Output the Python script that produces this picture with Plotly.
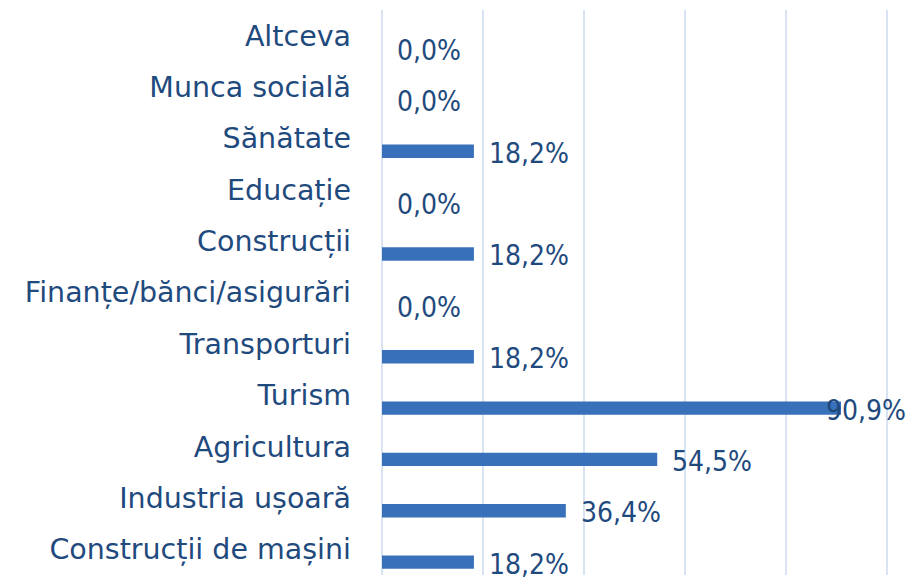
import plotly.graph_objects as go

categories = ["Construcții de mașini", "Industria ușoară", "Agricultura", "Turism",
              "Transporturi", "Finanțe/bănci/asigurări", "Construcții", "Educație",
              "Sănătate", "Munca socială", "Altceva"]
values = [18.2, 36.4, 54.5, 90.9, 18.2, 0.0, 18.2, 0.0, 18.2, 0.0, 0.0]
value_labels = [f"{v:.1f}%".replace(".", ",") for v in values]

TEXT = "#1F4A7E"
FONT = "DejaVu Sans"
VFONT = "DejaVu Sans Condensed"
GRID = "#D8E3F4"

pos = list(range(len(categories)))
fig = go.Figure()
fig.add_trace(go.Bar(
    x=values, y=pos, orientation="h", width=0.26,
    marker=dict(color="#3870BA", line=dict(width=0)),
    hoverinfo="skip",
))

annotations = []
for p, v, t in zip(pos, values, value_labels):
    if v > 80:
        annotations.append(dict(x=1, xref="paper", y=p, yref="y", text=t, showarrow=False,
                                xanchor="right", xshift=19, yshift=-2,
                                font=dict(family=VFONT, size=28, color=TEXT)))
    else:
        annotations.append(dict(x=v, xref="x", y=p, yref="y", text=t, showarrow=False,
                                xanchor="left", xshift=13, yshift=-2,
                                font=dict(family=VFONT, size=28, color=TEXT)))

fig.update_layout(
    width=910, height=577,
    margin=dict(l=382, r=21, t=10, b=2),
    paper_bgcolor="white", plot_bgcolor="white",
    showlegend=False,
    annotations=annotations,
    xaxis=dict(range=[0, 100.4], tickvals=[20, 40, 60, 80, 100], showgrid=True,
               gridcolor=GRID, gridwidth=1.5,
               showticklabels=False, zeroline=True, zerolinecolor=GRID, zerolinewidth=1.5,
               showline=False, fixedrange=True),
    yaxis=dict(range=[-0.25, 10.75], tickmode="array",
               tickvals=[p + 0.25 for p in pos], ticktext=categories,
               showgrid=False, zeroline=False, showline=False, ticks="",
               ticklabelstandoff=30, automargin=False, fixedrange=True,
               tickfont=dict(family=FONT, size=28.5, color=TEXT)),
)

fig.write_html("out.html", config={"displayModeBar": False},
               post_script="document.body.style.margin='0';")
